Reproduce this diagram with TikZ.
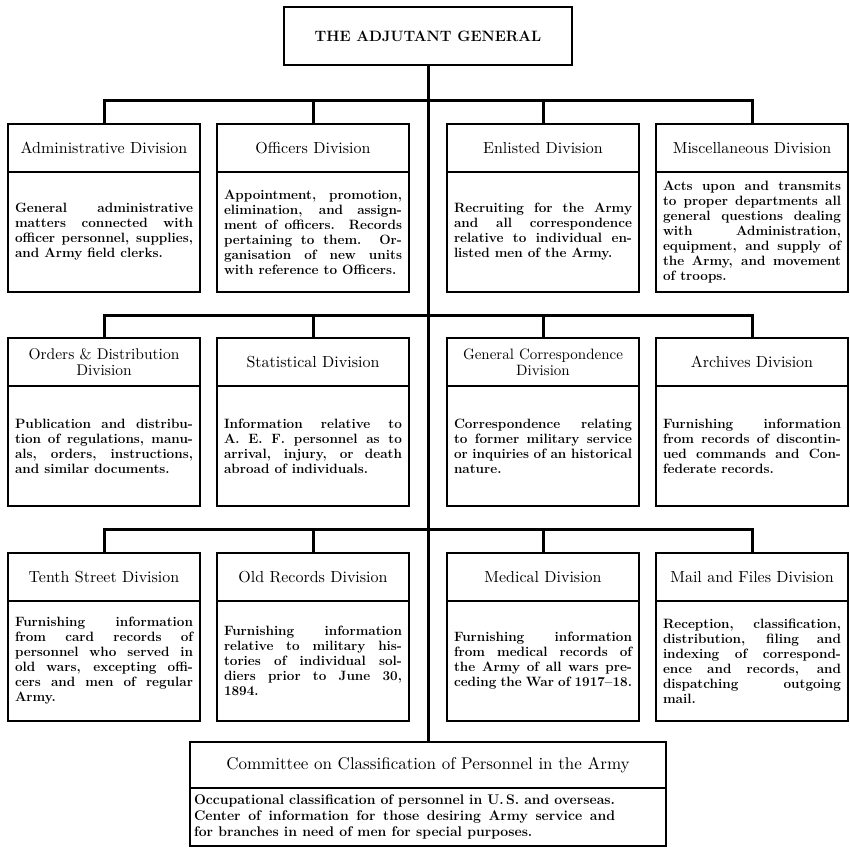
\documentclass[tikz,border=0pt]{standalone}
\usepackage{fontspec}
\usepackage{tikz}
\usetikzlibrary{positioning}
\newfontfamily\headfont[Extension=.otf]{lmroman10-regular}
\tolerance=9999
\hyphenpenalty=10000
\tikzset{
  head/.style={draw,line width=1.8pt,minimum width=192pt,minimum height=48pt,inner sep=2pt,outer sep=0pt,align=center,font=\headfont\fontsize{16}{17}\selectfont},
  body/.style={draw,line width=1.8pt,text width=178pt,inner xsep=7pt,inner ysep=3pt,minimum height=120pt,outer sep=0pt,align=justify,font=\fontsize{13.5}{15}\bfseries\selectfont},
  bar/.style={line width=3pt}
}

\begin{document}
\begin{tikzpicture}[x=1pt,y=-1pt]
  \useasboundingbox (0,0) rectangle (850,848);
  \node[draw,line width=1.8pt,minimum width=288pt,minimum height=58pt,outer sep=0pt,font=\fontsize{15}{16}\bfseries\selectfont] (tag) at (428,36) {THE ADJUTANT GENERAL};

  \coordinate (bar1) at (428,101);
  \coordinate (bar2) at (428,315);
  \coordinate (bar3) at (428,529);

  % first row
  \node[head] (adm-h) at (104,148) {Administrative Division};
  \node[body,below=0pt of adm-h] (adm-b) {General administrative\linebreak matters connected with\linebreak officer personnel, supplies,\linebreak and Army field clerks.};
  \node[head] (off-h) at (313,148) {Officers Division};
  \node[body,below=0pt of off-h] (off-b) {Appointment, promotion,\linebreak elimination, and assign-\linebreak ment of officers. Records\linebreak pertaining to them. Or-\linebreak ganisation of new units\linebreak with reference to Officers.};
  \node[head] (enl-h) at (543,148) {Enlisted Division};
  \node[body,below=0pt of enl-h] (enl-b) {Recruiting for the Army\linebreak and all correspondence\linebreak relative to individual en-\linebreak listed men of the Army.};
  \node[head] (mis-h) at (752,148) {Miscellaneous Division};
  \node[body,below=0pt of mis-h] (mis-b) {Acts upon and transmits\linebreak to proper departments all\linebreak general questions dealing\linebreak with Administration,\linebreak equipment, and supply of\linebreak the Army, and movement\linebreak of troops.};

  % second row
  \node[head,font=\headfont\fontsize{15.5}{16}\selectfont] (ord-h) at (104,362) {Orders \& Distribution\\Division};
  \node[body,below=0pt of ord-h] (ord-b) {Publication and distribu-\linebreak tion of regulations, manu-\linebreak als, orders, instructions,\linebreak and similar documents.};
  \node[head] (sta-h) at (313,362) {Statistical Division};
  \node[body,below=0pt of sta-h] (sta-b) {Information relative to\linebreak A. E. F. personnel as to\linebreak arrival, injury, or death\linebreak abroad of individuals.};
  \node[head,font=\headfont\fontsize{15}{16}\selectfont] (cor-h) at (543,362) {General Correspondence\\Division};
  \node[body,below=0pt of cor-h] (cor-b) {Correspondence relating\linebreak to former military service\linebreak or inquiries of an historical\linebreak nature.};
  \node[head] (arc-h) at (752,362) {Archives Division};
  \node[body,below=0pt of arc-h] (arc-b) {Furnishing information\linebreak from records of discontin-\linebreak ued commands and Con-\linebreak federate records.};

  % third row
  \node[head] (ten-h) at (104,577) {Tenth Street Division};
  \node[body,below=0pt of ten-h] (ten-b) {Furnishing information\linebreak from card records of\linebreak personnel who served in\linebreak old wars, excepting offi-\linebreak cers and men of regular\linebreak Army.};
  \node[head] (old-h) at (313,577) {Old Records Division};
  \node[body,below=0pt of old-h] (old-b) {Furnishing information\linebreak relative to military his-\linebreak tories of individual sol-\linebreak diers prior to June 30,\linebreak 1894.};
  \node[head] (med-h) at (543,577) {Medical Division};
  \node[body,below=0pt of med-h] (med-b) {Furnishing information\linebreak from medical records of\linebreak the Army of all wars pre-\linebreak ceding the War of 1917--18.};
  \node[head] (mai-h) at (752,577) {Mail and Files Division};
  \node[body,below=0pt of mai-h] (mai-b) {Reception, classification,\linebreak distribution, filing and\linebreak indexing of correspond-\linebreak ence and records, and\linebreak dispatching outgoing\linebreak mail.};

  % committee
  \node[head,minimum width=476pt,minimum height=46pt,font=\headfont\fontsize{17}{18}\selectfont] (com-h) at (428,765) {Committee on Classification of Personnel in the Army};
  \node[body,text width=468pt,inner xsep=4pt,minimum height=58pt,below=0pt of com-h,font=\fontsize{14}{16}\bfseries\selectfont] (com-b) {\parbox{421pt}{Occupational classification of personnel in U.\,S. and overseas.\linebreak Center of information for those desiring Army service and\linebreak for branches in need of men for special purposes.}};

  \draw[bar] (tag.south) -- (com-h.north);
  \draw[bar] (adm-h.north) -- (adm-h.north |- bar1) -- (mis-h.north |- bar1) -- (mis-h.north);
  \draw[bar] (off-h.north) -- (off-h.north |- bar1);
  \draw[bar] (enl-h.north) -- (enl-h.north |- bar1);
  \draw[bar] (ord-h.north) -- (ord-h.north |- bar2) -- (arc-h.north |- bar2) -- (arc-h.north);
  \draw[bar] (sta-h.north) -- (sta-h.north |- bar2);
  \draw[bar] (cor-h.north) -- (cor-h.north |- bar2);
  \draw[bar] (ten-h.north) -- (ten-h.north |- bar3) -- (mai-h.north |- bar3) -- (mai-h.north);
  \draw[bar] (old-h.north) -- (old-h.north |- bar3);
  \draw[bar] (med-h.north) -- (med-h.north |- bar3);
\end{tikzpicture}
\end{document}
